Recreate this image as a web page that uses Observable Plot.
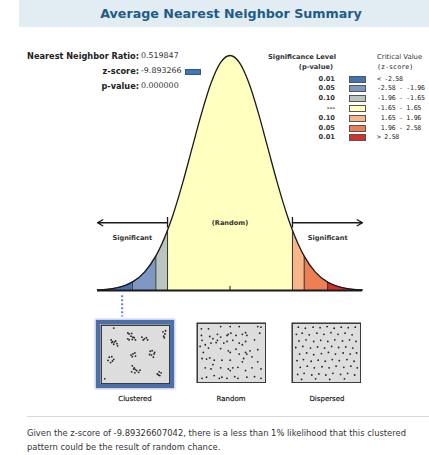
<!DOCTYPE html>
<html><head><meta charset="utf-8">
<script src="https://cdn.jsdelivr.net/npm/d3@7"></script>
<script src="https://cdn.jsdelivr.net/npm/@observablehq/plot@0.6"></script>
<style>
body{margin:0;background:#fff;font-family:"DejaVu Sans",Verdana,sans-serif;}
#wrap{position:relative;width:429px;height:455px;overflow:hidden;background:#fff;}
.abs{position:absolute;white-space:pre;}
</style></head><body><div id="wrap"></div>
<script>
// ---------- data ----------
const zCurve  = [-3.5,-3.25,-3,-2.75,-2.58,-2.25,-1.96,-1.8,-1.65,-1.5,-1.25,-1,-0.75,-0.5,-0.25,0,0.25,0.5,0.75,1,1.25,1.5,1.65,1.8,1.96,2.25,2.58,2.75,3,3.25,3.5];
const density = [0.0009,0.0020,0.0044,0.0091,0.0143,0.0317,0.0584,0.0790,0.1023,0.1295,0.1826,0.2420,0.3011,0.3521,0.3867,0.3989,0.3867,0.3521,0.3011,0.2420,0.1826,0.1295,0.1023,0.0790,0.0584,0.0317,0.0143,0.0091,0.0044,0.0020,0.0009];
const bandLo = [-3.5,-2.58,-1.96,-1.65,1.65,1.96,2.58];
const bandHi = [-2.58,-1.96,-1.65,1.65,1.96,2.58,3.5];
const bandColors = ["#4473b3","#7d99c3","#b9c5bf","#ffffc0","#f8b78b","#ee7e54","#d6302a"];
const pLabels = ["0.01","0.05","0.10","---","0.10","0.05","0.01"];
const zLabels = ["< -2.58","-2.58 - -1.96","-1.96 - -1.65","-1.65 - 1.65"," 1.65 - 1.96"," 1.96 - 2.58","> 2.58"];
const criticalZ = [-2.58,-1.96,-1.65,1.65,1.96,2.58];
const statLabels = ["Nearest Neighbor Ratio:","z-score:","p-value:"];
const statValues = ["0.519847","-9.893266","0.000000"];
const patternNames = ["Clustered","Random","Dispersed"];
const observedBandZ = -2.85;

const clusteredPts = [[16,1],
 [12,23],[14,26],[17,27],[19,25],[21,30],[22,34],[16,31],[13,28],
 [38,10],[40,12],[43,16],[38,21],[45,22],[48,19],[50,23],[40,23],[44,11],[46,18],
 [60,18],[64,21],[67,19],[69,23],[62,23],
 [93,8],[96,12],[94,16],[97,6],[95,19],
 [9,55],[13,54],[16,59],[7,61],[11,65],[14,62],
 [43,51],[46,49],[49,47],[50,53],[45,54],
 [73,44],[76,43],[79,49],[75,51],[78,55],[72,50],[80,46],
 [45,71],[48,75],[50,78],[52,80],[55,83],[44,82],[49,84],[57,79],[47,77],
 [84,86],[87,82],[90,84],[88,89],[86,88],
 [2,95]];
const randomPts = [[3,6],[14,6],[33,2],[48,2],[62,2],[91,2],[96,3],
 [3,18],[16,20],[4,27],[21,24],[28,27],[33,21],[43,18],[45,16],[49,14],[67,16],[72,13],[74,18],[94,14],
 [9,35],[18,32],[26,31],[38,32],[43,29],[52,27],[62,32],[67,35],[72,29],[86,26],
 [1,38],[14,41],[33,42],[45,46],[57,43],[72,49],[74,52],[79,46],[91,44],
 [4,60],[11,61],[16,59],[23,63],[35,63],[48,63],[67,66],[69,60],[82,57],
 [9,77],[18,79],[33,77],[45,79],[48,82],[52,77],[60,76],[82,77],[96,79],
 [4,96],[11,94],[23,91],[31,96],[35,94],[43,96],[55,93],[60,96],[74,94],[86,93],[96,96],
 [28,16],[57,18],[6,49],[48,49],[62,52],[21,71],[72,82],[91,66]];
const dispersedPts = [[6,3],[17,5],[29,3],[40,4],[51,2],[62,5],[73,3],[84,4],[95,3],
 [3,16],[12,14],[23,17],[35,14],[46,16],[57,13],[68,16],[79,14],[90,17],
 [7,28],[18,26],[30,29],[41,27],[52,29],[63,26],[75,28],[86,26],[96,29],
 [2,40],[13,38],[25,41],[36,39],[47,41],[58,38],[69,40],[80,39],[91,41],
 [8,52],[19,50],[30,53],[42,51],[53,49],[64,52],[76,50],[87,52],[97,50],
 [4,64],[14,62],[26,65],[37,63],[48,65],[59,62],[70,64],[82,62],[93,65],
 [9,76],[20,74],[31,77],[43,75],[54,77],[65,74],[77,76],[88,74],[98,77],
 [5,89],[15,87],[27,90],[38,88],[49,90],[60,87],[72,89],[83,87],[94,90],
 [11,98],[33,97],[55,98],[78,97]];

// ---------- helpers ----------
const wrap = document.getElementById("wrap");
function addDiv(css, text){
  const d = document.createElement("div");
  d.className = "abs";
  d.style.cssText += css;
  if (text !== undefined) d.textContent = text;
  wrap.appendChild(d);
  return d;
}
const FONT = '"DejaVu Sans",Verdana,sans-serif';

// title band
addDiv("left:19px;top:0;width:410px;height:27px;background:#e1ecf3;");
addDiv("left:19px;top:0;width:410px;height:27px;line-height:27px;text-align:center;padding-left:14px;box-sizing:border-box;font-size:12.7px;font-weight:bold;color:#1f5c87;", "Average Nearest Neighbor Summary");

// ---------- main curve ----------
const curve = zCurve.map((z,i)=>({z, d:density[i]}));
const dens = z => curve.find(p => Math.abs(p.z - z) < 1e-9).d;
const zMin = d3.min(zCurve), zMax = d3.max(zCurve);
const arrowLevel = 0.115;

const bandMarks = bandLo.map((lo,i)=>{
  const pts = curve.filter(p => p.z >= lo - 1e-9 && p.z <= bandHi[i] + 1e-9);
  return Plot.areaY(pts, {x:"z", y:"d", fill:bandColors[i], curve:"monotone-x"});
});
const arrows = [{x1:criticalZ[2], x2:zMin},{x1:criticalZ[3], x2:zMax}];

const main = Plot.plot({
  width:429, height:320,
  marginLeft:97, marginRight:67, marginTop:55, marginBottom:30,
  x:{domain:[zMin,zMax], axis:null},
  y:{domain:[0,d3.max(density)], axis:null},
  style:{background:"transparent", overflow:"visible", fontFamily:FONT},
  marks:[
    ...bandMarks,
    Plot.ruleX(criticalZ, {x:d=>d, y1:0, y2:d=>dens(d), stroke:"#333", strokeWidth:1}),
    Plot.line(curve, {x:"z", y:"d", curve:"monotone-x", stroke:"#1a1a1a", strokeWidth:1.3}),
    Plot.ruleY([0], {x1:zMin, x2:zMax, stroke:"#1a1a1a", strokeWidth:2}),
    Plot.ruleX([0], {y1:0, y2:0.007, stroke:"#1a1a1a", strokeWidth:1}),
    Plot.arrow(arrows, {x1:"x1", x2:"x2", y1:arrowLevel, y2:arrowLevel, bend:0, headLength:7, stroke:"#1a1a1a", strokeWidth:1.3}),
    Plot.ruleX(arrows, {x:"x1", y1:arrowLevel-0.009, y2:arrowLevel+0.009, stroke:"#1a1a1a", strokeWidth:1.3}),
    Plot.text([criticalZ[0], criticalZ[5]], {x:d=>d, y:0.09, text:()=>"Significant", fontSize:6.6, fontWeight:"bold", fill:"#333"}),
    Plot.text([0], {x:d=>d, y:arrowLevel, text:()=>"(Random)", fontSize:6.6, fontWeight:"bold", fill:"#333"}),
    Plot.ruleX([observedBandZ], {y1:-0.009, y2:-0.045, stroke:"#6f8fc2", strokeWidth:2.2, strokeDasharray:"2,2"})
  ]
});
main.style.position = "absolute"; main.style.left = "0px"; main.style.top = "0px";
wrap.appendChild(main);

// ---------- stats ----------
const statY = [56, 71, 86];
statLabels.forEach((lab,i)=>{
  addDiv(`left:0;width:139px;top:${statY[i]-6}px;line-height:12px;text-align:right;font-size:8.2px;font-weight:bold;color:#222;`, lab);
  addDiv(`left:141px;top:${statY[i]-6}px;line-height:12px;font-size:7.9px;color:#333;`, statValues[i]);
});
addDiv(`left:185px;top:${statY[1]-2.5}px;width:14px;height:4px;background:${bandColors[0]};border:0.8px solid #2c5796;`);

// ---------- legend ----------
addDiv("left:236px;width:100px;top:52px;line-height:10px;text-align:right;font-size:6.7px;font-weight:bold;color:#333;", "Significance Level");
addDiv("left:236px;width:97px;top:62px;line-height:10px;text-align:right;font-size:6.7px;font-weight:bold;color:#333;", "(p-value)");
addDiv("left:377px;top:52px;line-height:10px;font-size:6.9px;color:#333;", "Critical Value");
addDiv("left:377px;top:62px;line-height:10px;font-size:6.7px;color:#222;font-family:'DejaVu Sans Mono',monospace;", "(z-score)");
pLabels.forEach((p,i)=>{
  const cy = 78.5 + i*9.8;
  addDiv(`left:296px;width:39px;top:${cy-5}px;line-height:10px;text-align:right;font-size:6.7px;font-weight:bold;color:#333;`, p);
  addDiv(`left:349px;top:${cy-3}px;width:15px;height:5px;background:${bandColors[i]};border:0.8px solid #555;`);
  addDiv(`left:377px;top:${cy-5}px;line-height:10px;font-size:6.6px;color:#1e1e1e;font-family:'DejaVu Sans Mono',monospace;letter-spacing:-0.3px;`, zLabels[i]);
});

// ---------- point patterns ----------
function patternPlot(pts, w, h){
  return Plot.plot({
    width:w, height:h, margin:0, inset:3,
    x:{domain:[0,100], axis:null}, y:{domain:[100,0], axis:null},
    style:{background:"transparent"},
    marks:[
      Plot.frame({fill:"#dddddd", stroke:"#2a2a2a", strokeWidth:1.4, inset:0.7}),
      Plot.dot(pts, {x:d=>d[0], y:d=>d[1], r:0.9, fill:"#222", stroke:null})
    ]
  });
}
const cWrap = addDiv("left:96px;top:320px;width:70px;height:60px;border:4px solid #4b70a9;box-shadow:0 0 2px 1px rgba(90,110,150,0.45);");
cWrap.appendChild(patternPlot(clusteredPts, 70, 60));
const rWrap = addDiv("left:196px;top:322px;");
rWrap.appendChild(patternPlot(randomPts, 70, 61));
const dWrap = addDiv("left:291px;top:322px;");
dWrap.appendChild(patternPlot(dispersedPts, 70, 61));
[135, 231, 327].forEach((cx,i)=>{
  addDiv(`left:${cx-40}px;width:80px;top:394px;line-height:10px;text-align:center;font-size:7px;color:#111;-webkit-text-stroke:0.15px #111;`, patternNames[i]);
});

// ---------- caption ----------
addDiv("left:27px;top:416px;width:402px;height:1px;background:#d9d9d9;");
addDiv("left:27px;top:426px;line-height:14px;font-size:8.4px;color:#333;", "Given the z-score of -9.89326607042, there is a less than 1% likelihood that this clustered\npattern could be the result of random chance.");
</script></body></html>
